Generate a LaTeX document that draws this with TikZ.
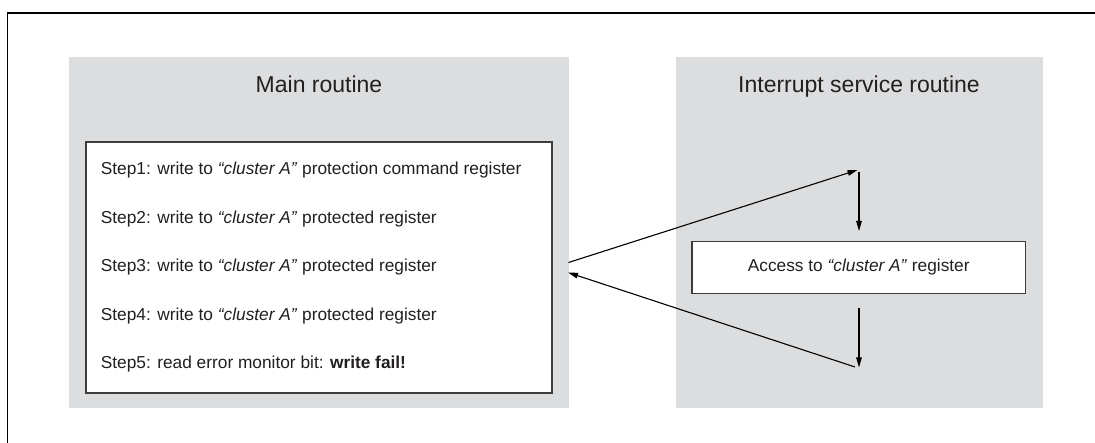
\documentclass[tikz,border=0pt]{standalone}
\usepackage{fontspec}
\setmainfont{Liberation Sans}
\usetikzlibrary{arrows.meta}
\definecolor{panelgray}{HTML}{DCDDDF}
\definecolor{boxline}{HTML}{3C3C3C}
\definecolor{txt}{HTML}{231F20}
\tikzset{
  frameline/.style={line width=1.6pt, black},
  panel/.style={fill=panelgray, draw=none, inner sep=0pt},
  whitebox/.style={fill=white, draw=boxline, line width=1.3pt, inner sep=0pt},
  titletext/.style={font=\fontsize{23}{27}\selectfont, text=txt, anchor=base},
  steptext/.style={font=\fontsize{17.3}{20}\selectfont, text=txt, anchor=base west, inner sep=0pt},
  conn/.style={line width=1.1pt, black, -{Triangle[length=10pt,width=5.5pt]}}
}
\begin{document}
\begin{tikzpicture}[x=1pt,y=-1pt]
\useasboundingbox (0,0) rectangle (1095,443);
\draw[frameline] (7.5,443) -- (7.5,13) -- (1095,13);
% panels
\node[panel, minimum width=500pt, minimum height=350.5pt] (mainpanel) at (319,232.5) {};
\node[panel, minimum width=366.5pt, minimum height=350.5pt] (isrpanel) at (859.25,232.5) {};
\node[titletext] (maintitle) at (319,93) {Main routine};
\node[titletext] (isrtitle) at (859,93) {Interrupt service routine};
% main box
\node[whitebox, minimum width=466pt, minimum height=251pt] (mainbox) at (319,267.5) {};
\node[steptext] (s1) at (100.7,175) {Step1: write to \textit{“cluster A”} protection command register};
\node[steptext] (s2) at (100.7,223.5) {Step2: write to \textit{“cluster A”} protected register};
\node[steptext] (s3) at (100.7,272) {Step3: write to \textit{“cluster A”} protected register};
\node[steptext] (s4) at (100.7,320.5) {Step4: write to \textit{“cluster A”} protected register};
\node[steptext] (s5) at (100.7,369) {Step5: read error monitor bit: \textbf{write fail!}};
% ISR box
\node[whitebox, minimum width=333.5pt, minimum height=51.5pt, font=\fontsize{17.3}{20}\selectfont, text=txt] (isrbox) at (858.75,267.5) {Access to \textit{“cluster A”} register};
% connector points
\coordinate (outA) at (568.5,262.5);
\coordinate (inA) at (857.5,170);
\coordinate (d1s) at (859,172.5);
\coordinate (d1e) at (859,231);
\coordinate (d2s) at (859,308);
\coordinate (d2e) at (859,367.5);
\coordinate (retS) at (855,367);
\coordinate (retE) at (568,272.5);
\draw[conn] (outA) -- (inA);
\draw[conn] (d1s) -- (d1e);
\draw[conn] (d2s) -- (d2e);
\draw[conn] (retS) -- (retE);
\end{tikzpicture}
\end{document}
